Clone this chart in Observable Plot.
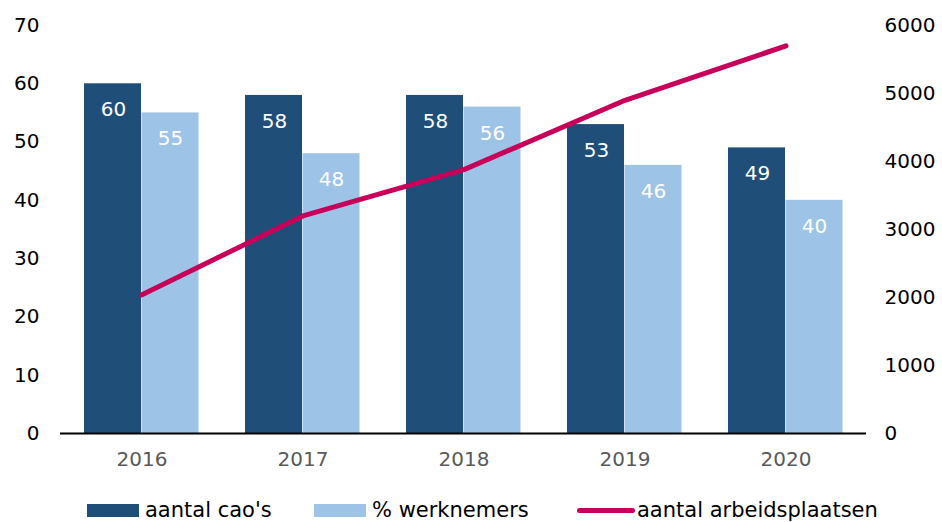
<!DOCTYPE html>
<html>
<head>
<meta charset="utf-8">
<script src="https://cdn.jsdelivr.net/npm/d3@7"></script>
<script src="https://cdn.jsdelivr.net/npm/@observablehq/plot@0.6"></script>
<style>
  body { margin: 0; background: #fff; font-family: "DejaVu Sans", Verdana, sans-serif; }
  #chart { width: 942px; }
  .legend { position: relative; height: 32px; font-size: 21px; color: #000; }
  .legend .item { position: absolute; top: 8px; display: flex; align-items: center; height: 24px; }
  .legend .sw { display: inline-block; width: 52px; height: 13px; margin-right: 6px; }
  .legend .ln { display: inline-block; width: 58px; height: 5px; border-radius: 3px; margin-right: 2px; }
</style>
</head>
<body>
<div id="chart"></div>
<script>
const years = ["2016", "2017", "2018", "2019", "2020"];
const caos = [60, 58, 58, 53, 49];
const werknemers = [55, 48, 56, 46, 40];
const arbeidsplaatsen = [2040, 3200, 3880, 4900, 5700];
const leftTicks = [0, 10, 20, 30, 40, 50, 60, 70];
const rightTicks = [0, 1000, 2000, 3000, 4000, 5000, 6000];
const seriesNames = ["aantal cao's", "% werknemers", "aantal arbeidsplaatsen"];

const colDark = "#1F4E79";
const colLight = "#9DC3E6";
const colLine = "#C8005A";
const leftMax = 70, rightMax = 6000;
const toLeft = v => v * leftMax / rightMax;

const darkData = years.map((y, i) => ({year: y, value: caos[i]}));
const lightData = years.map((y, i) => ({year: y, value: werknemers[i]}));
const lineData = years.map((y, i) => ({year: y, value: toLeft(arbeidsplaatsen[i])}));

const plot = Plot.plot({
  width: 942,
  height: 490,
  marginLeft: 60,
  marginRight: 76,
  marginTop: 25,
  marginBottom: 57,
  style: {fontFamily: "'DejaVu Sans', Verdana, sans-serif", fontSize: "20px", background: "#fff"},
  x: {type: "band", domain: years, padding: 0, label: null},
  y: {domain: [0, leftMax], label: null},
  marks: [
    Plot.barY(darkData, {x: "year", y: "value", fill: colDark, insetLeft: 23, insetRight: 81}),
    Plot.barY(lightData, {x: "year", y: "value", fill: colLight, insetLeft: 80.5, insetRight: 23.5}),
    Plot.text(darkData, {x: "year", y: "value", text: d => String(d.value), dx: -28.5, dy: 26, fill: "#fff", fontSize: 20}),
    Plot.text(lightData, {x: "year", y: "value", text: d => String(d.value), dx: 28.5, dy: 26, fill: "#fff", fontSize: 20}),
    Plot.ruleY([0], {stroke: "#000", strokeWidth: 2}),
    Plot.line(lineData, {x: "year", y: "value", stroke: colLine, strokeWidth: 5}),
    Plot.axisY(leftTicks, {anchor: "left", tickSize: 0, tickPadding: 21, fill: "#000", fontSize: 20, label: null}),
    Plot.axisY(rightTicks.map(toLeft), {anchor: "right", tickSize: 0, tickPadding: 18, fill: "#000", fontSize: 20, label: null,
      tickFormat: d => String(Math.round(d * rightMax / leftMax))}),
    Plot.axisX({anchor: "bottom", tickSize: 0, tickPadding: 18, fill: "#595959", fontSize: 20, label: null})
  ]
});
document.getElementById("chart").appendChild(plot);

const legend = document.createElement("div");
legend.className = "legend";
legend.innerHTML = `
  <div class="item" style="left:87px"><span class="sw" style="background:${colDark}"></span><span>${seriesNames[0]}</span></div>
  <div class="item" style="left:314px"><span class="sw" style="background:${colLight}"></span><span>${seriesNames[1]}</span></div>
  <div class="item" style="left:577px"><span class="ln" style="background:${colLine}"></span><span>${seriesNames[2]}</span></div>`;
document.getElementById("chart").appendChild(legend);
</script>
</body>
</html>
